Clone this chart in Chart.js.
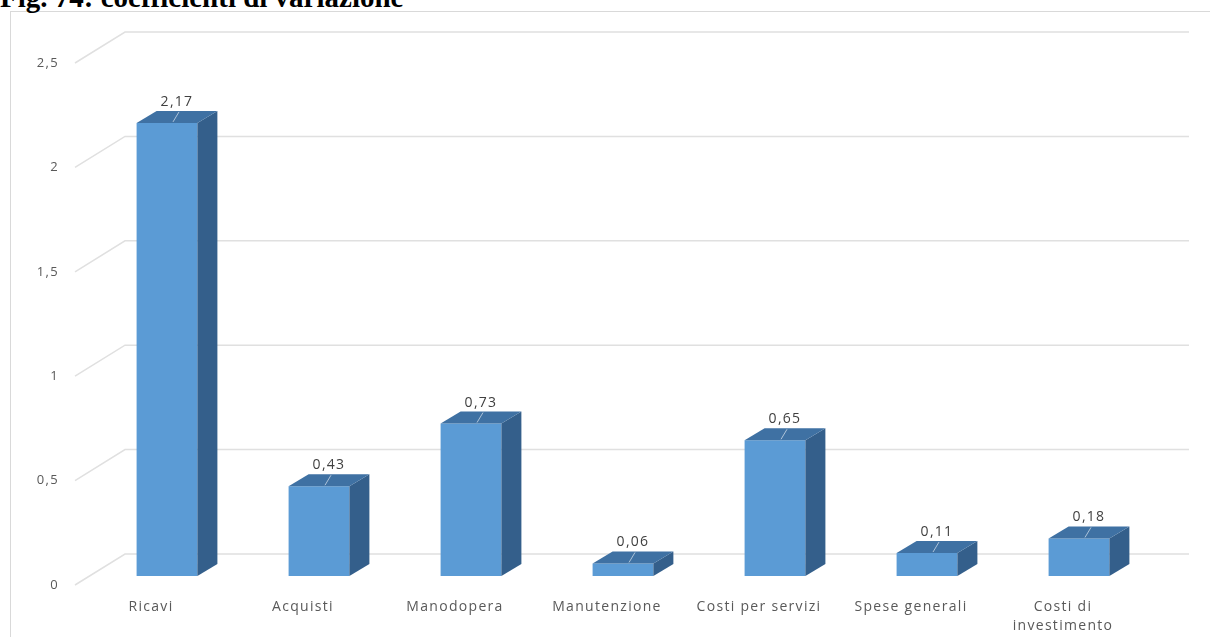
<!DOCTYPE html>
<html>
<head>
<meta charset="utf-8">
<script src="https://cdn.jsdelivr.net/npm/chart.js@4/dist/chart.umd.min.js"></script>
<style>
  html, body { margin: 0; padding: 0; background: #ffffff; }
  #wrap { position: relative; width: 1210px; height: 637px; overflow: hidden; }
  #title {
    position: absolute; left: 0; top: -17px;
    font-family: "Liberation Serif", "Times New Roman", serif;
    font-weight: bold; font-size: 29px; line-height: 29px; color: #000; white-space: nowrap;
  }
  #frame {
    position: absolute; left: 10px; top: 11px; width: 1210px; height: 640px;
    border: 1px solid #d9d9d9; box-sizing: border-box;
  }
  canvas { position: absolute; left: 0; top: 0; }
</style>
</head>
<body>
<div id="wrap">
  <div id="frame"></div>
  <div id="title">Fig. 74: coefficienti di variazione</div>
  <canvas id="c" width="1210" height="637"></canvas>
</div>
<script>
// Categories and coefficient values
const categories = ['Ricavi', 'Acquisti', 'Manodopera', 'Manutenzione', 'Costi per servizi', 'Spese generali', ['Costi di', 'investimento']];
const values = [2.17, 0.43, 0.73, 0.06, 0.65, 0.11, 0.18];
const yTicks = [0, 0.5, 1, 1.5, 2, 2.5];

const fmt = v => String(v).replace('.', ',');

// Oblique projection offsets
const DEPTH_X = 20, DEPTH_Y = 12;   // bar depth
const WALL_X = 34, WALL_Y = 22;     // back wall relative to bar plane
const FRONT_X = -16, FRONT_Y = 9;   // front axis plane relative to bar plane

const FRONT_COLOR = '#5b9bd5';
const SIDE_COLOR = '#345f8b';
const TOP_COLOR = '#3f71a3';
const GRID_COLOR = '#e0e0e0';
const TEXT_COLOR = '#595959';
const FONT = '"Open Sans", "Liberation Sans", sans-serif';

function setText(ctx, size, color) {
  ctx.font = size + 'px ' + FONT;
  ctx.fillStyle = color;
  ctx.letterSpacing = '1.3px';
}

const wallPlugin = {
  id: 'wall3d',
  beforeDatasetsDraw(chart) {
    const { ctx, chartArea, scales } = chart;
    const y = scales.y;
    ctx.save();
    ctx.strokeStyle = GRID_COLOR;
    ctx.lineWidth = 1.5;
    yTicks.forEach(t => {
      const py = y.getPixelForValue(t);
      ctx.beginPath();
      ctx.moveTo(chartArea.left + FRONT_X, py + FRONT_Y);
      ctx.lineTo(chartArea.left + WALL_X, py - WALL_Y);
      ctx.lineTo(chartArea.right + WALL_X, py - WALL_Y);
      ctx.stroke();
    });
    // tick labels on the front plane
    setText(ctx, 13, TEXT_COLOR);
    ctx.textAlign = 'right';
    ctx.textBaseline = 'middle';
    yTicks.forEach(t => {
      const py = y.getPixelForValue(t);
      ctx.fillText(fmt(t), chartArea.left - 32, py + FRONT_Y);
    });
    ctx.restore();
  },
  afterDatasetsDraw(chart) {
    const { ctx, scales } = chart;
    const meta = chart.getDatasetMeta(0);
    ctx.save();
    meta.data.forEach((bar, i) => {
      const p = bar.getProps(['x', 'y', 'base', 'width'], true);
      const l = p.x - p.width / 2, r = p.x + p.width / 2;
      const top = p.y, base = p.base;
      // side face
      ctx.fillStyle = SIDE_COLOR;
      ctx.beginPath();
      ctx.moveTo(r, top);
      ctx.lineTo(r + DEPTH_X, top - DEPTH_Y);
      ctx.lineTo(r + DEPTH_X, base - DEPTH_Y);
      ctx.lineTo(r, base);
      ctx.closePath();
      ctx.fill();
      // top face
      ctx.fillStyle = TOP_COLOR;
      ctx.beginPath();
      ctx.moveTo(l, top);
      ctx.lineTo(l + DEPTH_X, top - DEPTH_Y);
      ctx.lineTo(r + DEPTH_X, top - DEPTH_Y);
      ctx.lineTo(r, top);
      ctx.closePath();
      ctx.fill();
      // leader tick on the top face
      const cx = p.x + DEPTH_X / 2;
      ctx.strokeStyle = 'rgba(200,215,230,0.8)';
      ctx.lineWidth = 1;
      ctx.beginPath();
      ctx.moveTo(cx - 4, top - 1);
      ctx.lineTo(cx + 2, top - DEPTH_Y + 1);
      ctx.stroke();
      // value label
      setText(ctx, 14, '#404040');
      ctx.textAlign = 'center';
      ctx.textBaseline = 'middle';
      ctx.fillText(fmt(values[i]), cx, top - 21);
    });
    // category labels on the front plane
    const x = scales.x;
    setText(ctx, 14, TEXT_COLOR);
    ctx.textAlign = 'center';
    ctx.textBaseline = 'middle';
    categories.forEach((c, i) => {
      const px = x.getPixelForValue(i) - 16;
      const py = scales.y.getPixelForValue(0) + 31;
      const lines = Array.isArray(c) ? c : [c];
      lines.forEach((ln, k) => ctx.fillText(ln, px, py + k * 19));
    });
    ctx.restore();
  }
};

new Chart(document.getElementById('c'), {
  type: 'bar',
  data: {
    labels: categories,
    datasets: [{
      data: values,
      backgroundColor: FRONT_COLOR,
      borderWidth: 0,
      categoryPercentage: 0.8,
      barPercentage: 0.5
    }]
  },
  options: {
    responsive: false,
    animation: false,
    events: [],
    layout: { padding: { left: 91, right: 55, top: 54, bottom: 61 } },
    plugins: { legend: { display: false }, tooltip: { enabled: false }, title: { display: false } },
    scales: {
      x: { display: false, offset: true },
      y: { display: false, min: 0, max: 2.5 }
    }
  },
  plugins: [wallPlugin]
});
</script>
</body>
</html>
